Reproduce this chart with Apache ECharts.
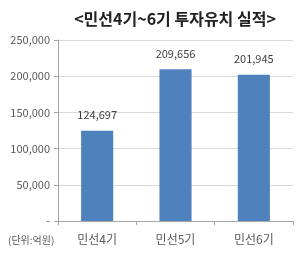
<!DOCTYPE html>
<html><head><meta charset="utf-8">
<script src="https://cdn.jsdelivr.net/npm/echarts@6/dist/echarts.min.js"></script>
<style>html,body{margin:0;padding:0;background:#fff}#c{width:304px;height:260px}</style>
</head><body><div id="c"></div>
<script>
const categories = ['민선4기', '민선5기', '민선6기'];
const values = [124697, 209656, 201945];
const yTicks = [0, 50000, 100000, 150000, 200000, 250000];
const titleText = '<민선4기~6기 투자유치 실적>';
const unitText = '(단위:억원)';

const fmt = v => v === 0 ? '-' : v.toLocaleString('en-US');
const font = '"Noto Sans CJK KR", "Noto Sans", sans-serif';
const chart = echarts.init(document.getElementById('c'), null, {renderer: 'canvas'});
chart.setOption({
  animation: false,
  textStyle: {fontFamily: font},
  title: {text: titleText, left: 170, top: 6, textAlign: 'center',
    textStyle: {fontSize: 16, fontWeight: 'bold', color: '#222', fontFamily: font}},
  graphic: [{type: 'text', left: 8, top: 235,
    style: {text: unitText, fontSize: 10, fill: '#595959', fontFamily: font}}],
  grid: {left: 58, right: 11, top: 40, bottom: 39},
  xAxis: {type: 'category', data: categories,
    axisLine: {lineStyle: {color: '#a6a6a6'}},
    axisTick: {show: true, length: 4, lineStyle: {color: '#a6a6a6'}},
    axisLabel: {color: '#595959', fontSize: 12, margin: 12, fontFamily: font}},
  yAxis: {type: 'value', min: yTicks[0], max: yTicks[yTicks.length - 1], interval: 50000,
    axisLine: {show: true, lineStyle: {color: '#a6a6a6'}},
    axisTick: {show: true, length: 4, lineStyle: {color: '#a6a6a6'}},
    splitLine: {lineStyle: {color: '#d9d9d9'}},
    axisLabel: {color: '#595959', fontSize: 11, margin: 8, formatter: fmt, fontFamily: font}},
  series: [{type: 'bar', data: values, barWidth: '41%',
    itemStyle: {color: '#4f81bd'},
    label: {show: true, position: 'top', distance: 10, color: '#404040', fontSize: 11,
      formatter: p => fmt(p.value), fontFamily: font}}]
});
</script></body></html>
